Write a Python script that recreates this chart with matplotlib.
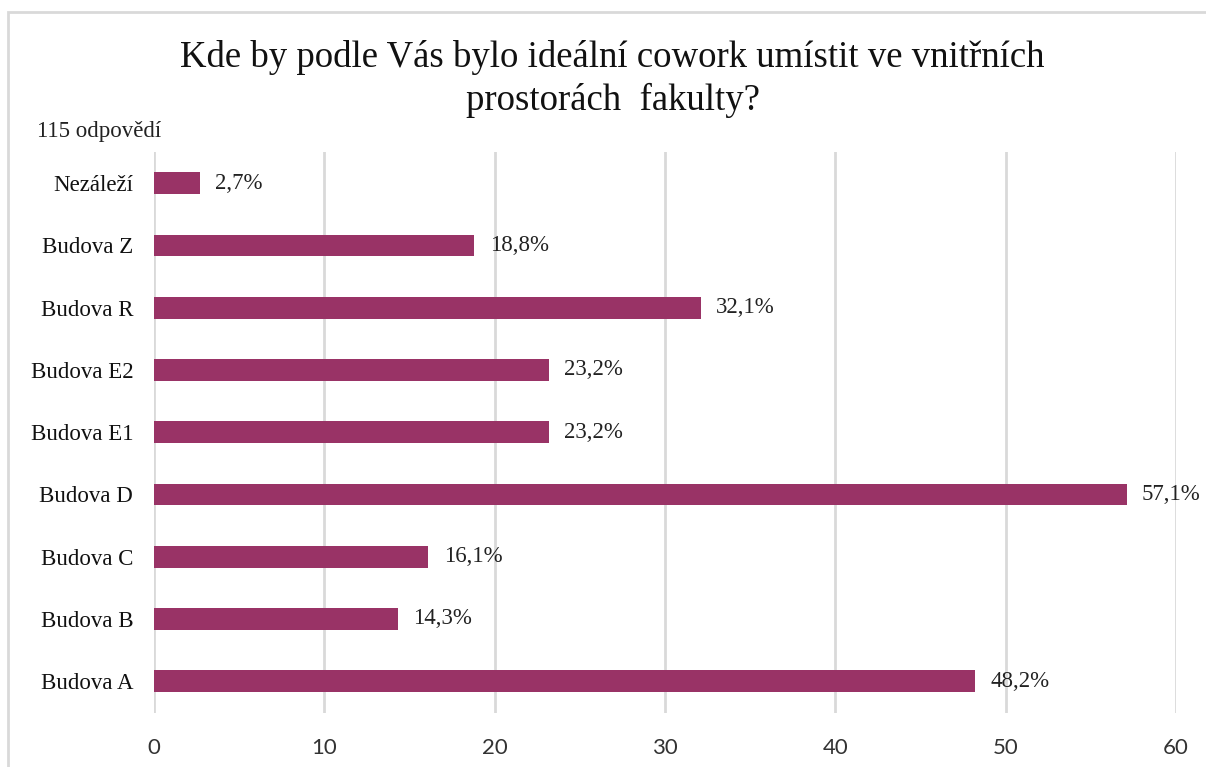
import matplotlib.pyplot as plt
from matplotlib.patches import Rectangle

# Data (bottom to top as drawn)
categories = ['Budova A', 'Budova B', 'Budova C', 'Budova D', 'Budova E1',
              'Budova E2', 'Budova R', 'Budova Z', 'Nezáleží']
percent = [48.2, 14.3, 16.1, 57.1, 23.2, 23.2, 32.1, 18.8, 2.7]
labels = ['48,2%', '14,3%', '16,1%', '57,1%', '23,2%', '23,2%', '32,1%', '18,8%', '2,7%']
x_ticks = [0, 10, 20, 30, 40, 50, 60]

bar_color = '#993366'
grid_color = '#d9d9d9'

plt.rcParams['font.family'] = ['Liberation Serif', 'DejaVu Serif']

fig = plt.figure(figsize=(12.06, 7.67), dpi=100)
ax = fig.add_axes([0.1277, 0.0704, 0.8474, 0.7314])

y = list(range(len(categories)))
ax.barh(y, percent, height=0.35, color=bar_color, zorder=3)

# value labels right of each bar
for yi, v, lab in zip(y, percent, labels):
    ax.text(v + 0.9, yi, lab, va='center', ha='left',
            fontsize=16.5, color='#222222')

ax.set_xlim(0, 60)
ax.set_ylim(-0.51, 8.5)
ax.set_yticks(y)
ax.set_yticklabels(categories)
ax.set_xticks(x_ticks)
ax.set_xticklabels([str(t) for t in x_ticks])
for t in ax.get_yticklabels():
    t.set_fontfamily(['Liberation Serif'])
    t.set_fontsize(16.5)
    t.set_color('#111111')
for t in ax.get_xticklabels():
    t.set_fontfamily(['Lato'])
    t.set_fontsize(16)
    t.set_color('#333333')
ax.tick_params(length=0)
ax.tick_params(axis='y', pad=15)
ax.tick_params(axis='x', pad=18)

ax.grid(axis='x', color=grid_color, linewidth=2, zorder=0)
for s in ax.spines.values():
    s.set_visible(False)

# title and response count
fig.text(0.508, 0.897, 'Kde by podle Vás bylo ideální cowork umístit ve vnitřních\nprostorách  fakulty?',
         ha='center', va='center', fontsize=26.5,
         linespacing=1.3, color='#111111')
fig.text(0.031, 0.828, '115 odpovědí', ha='left', va='center',
         fontsize=16.5, color='#222222')

# outer chart border
fig.patches.append(Rectangle((8 / 1206, -0.05), 1.1, 1 - 12 / 767 + 0.05,
                             transform=fig.transFigure, fill=False,
                             edgecolor=grid_color, linewidth=2))

fig.savefig('out.png', dpi=100)
